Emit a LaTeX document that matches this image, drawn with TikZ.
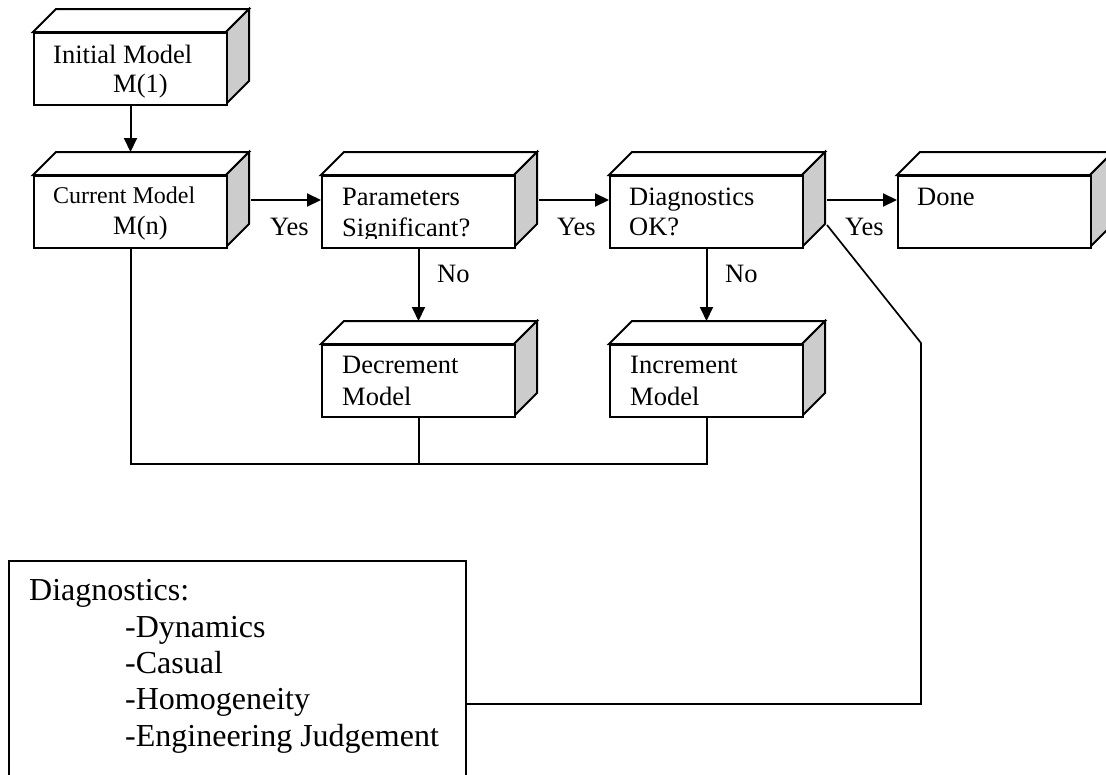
\documentclass[tikz,border=0pt]{standalone}
\usepackage{fontspec}
\setmainfont{Liberation Serif}
\usetikzlibrary{arrows.meta,calc}
\definecolor{sidegray}{HTML}{CCCCCC}
\tikzset{
  boxline/.style={line width=2pt, line join=miter},
  frontbox/.style={draw, line width=2pt, fill=white, anchor=north west, inner sep=0pt,
                   minimum width=193pt, minimum height=72pt},
  lbl/.style={anchor=base west, inner sep=0pt, font=\fontsize{26.5}{30}\selectfont},
  smalllbl/.style={anchor=base west, inner sep=0pt, font=\fontsize{24}{28}\selectfont},
  biglbl/.style={anchor=base west, inner sep=0pt, font=\fontsize{32}{36}\selectfont},
  arr/.style={line width=2pt, -{Triangle[length=14pt,width=13pt]}},
  conn/.style={line width=2pt},
}
% name, left, top
\newcommand{\cuboid}[3]{%
  \draw[boxline, fill=white] (#2,#3) -- ++(23,-23) -- ++(193,0) -- ++(-23,23) -- cycle;
  \draw[boxline, fill=sidegray] (#2+193,#3) -- ++(23,-23) -- ++(0,72) -- ++(-23,23) -- cycle;
  \node[frontbox] (#1) at (#2,#3) {};
}
\begin{document}
\begin{tikzpicture}[x=1pt,y=-1pt]
\useasboundingbox (0,0) rectangle (1106,774);
\clip (0,0) rectangle (1106,774);

% boxes
\cuboid{init}{33}{32}
\cuboid{cur}{33}{175}
\cuboid{par}{321}{175}
\cuboid{diag}{609}{175}
\cuboid{done}{897}{175}
\cuboid{dec}{321}{344}
\cuboid{inc}{609}{344}

% texts
\node[lbl] (tinit1) at (53,63) {Initial Model};
\node[lbl] (tinit2) at (113,92) {M(1)};
\node[smalllbl] (tcur1) at (53,203) {Current Model};
\node[lbl] (tcur2) at (113,234) {M(n)};
\node[lbl] (tpar1) at (342,205) {Parameters};
\begin{scope}
  \clip (321,175) rectangle (513,238);
  \node[lbl] (tpar2) at (342,236) {Significant?};
\end{scope}
\node[lbl] (tdiag1) at (629,205) {Diagnostics};
\node[lbl] (tdiag2) at (629,235) {OK?};
\node[lbl] (tdone) at (917,205) {Done};
\node[lbl] (tdec1) at (342,373) {Decrement};
\node[lbl] (tdec2) at (342,405) {Model};
\node[lbl] (tinc1) at (630,373) {Increment};
\node[lbl] (tinc2) at (630,405) {Model};

% labels on connectors
\node[lbl] (yes1) at (270,235) {Yes};
\node[lbl] (yes2) at (557,235) {Yes};
\node[lbl] (yes3) at (845,235) {Yes};
\node[lbl] (no1) at (437,282) {No};
\node[lbl] (no2) at (725,282) {No};

% connectors
\draw[arr] (init.south) -- ([yshift=23pt]cur.north);
\draw[arr] ([shift={(23,25)}]cur.north east) -- ([shift={(0,25)}]par.north west);
\draw[arr] ([shift={(23,25)}]par.north east) -- ([shift={(0,25)}]diag.north west);
\draw[arr] ([shift={(23,25)}]diag.north east) -- ([shift={(0,25)}]done.north west);
\draw[arr] (par.south) -- ([yshift=23pt]dec.north);
\draw[arr] (diag.south) -- ([yshift=23pt]inc.north);

\coordinate (loopy) at (0,464);
\draw[conn] (cur.south) -- (cur.south |- loopy) -- (inc.south |- loopy) -- (inc.south);
\draw[conn] (dec.south) -- (dec.south |- loopy);

% diagnostics list box
\node[draw, line width=2pt, anchor=north west, inner sep=0pt,
      minimum width=457pt, minimum height=240pt] (dlist) at (8,560) {};
\node[biglbl] (dl0) at (29,600) {Diagnostics:};
\node[biglbl] (dl1) at (125,637) {-Dynamics};
\node[biglbl] (dl2) at (125,673) {-Casual};
\node[biglbl] (dl3) at (125,709) {-Homogeneity};
\node[biglbl] (dl4) at (125,746) {-Engineering Judgement};

\coordinate (bend1) at (921,343);
\coordinate (bend2) at (921,704);
\draw[conn, line width=1.7pt] ([shift={(23,50)}]diag.north east) -- (bend1) -- (bend2) -- (dlist.east |- bend2);
\end{tikzpicture}
\end{document}
